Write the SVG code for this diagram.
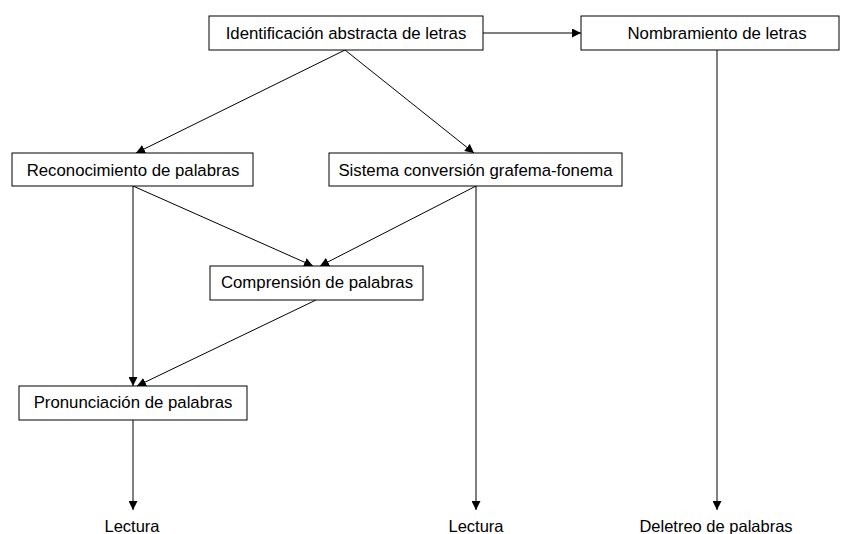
<svg xmlns="http://www.w3.org/2000/svg" width="843" height="534" viewBox="0 0 843 534">
<defs>
<style>
.box{fill:#fff;stroke:#000;stroke-width:1}
.t{font-family:"Liberation Sans",Arial,sans-serif;font-size:16.8px;fill:#000;text-anchor:middle}
.b{font-family:"Liberation Sans",Arial,sans-serif;font-size:16.5px;fill:#000;text-anchor:middle}
.c{stroke:#000;stroke-width:1;fill:none;marker-end:url(#ah)}
</style>
<marker id="ah" viewBox="0 0 10 10" refX="10" refY="5" markerWidth="9" markerHeight="9" markerUnits="userSpaceOnUse" orient="auto">
<path d="M0,0 L10,5 L0,10 Z" fill="#000"/>
</marker>
</defs>
<rect width="843" height="534" fill="#fff"/>
<g id="connectors">
<line class="c" x1="482" y1="33" x2="581" y2="33"/>
<line class="c" x1="345" y1="50" x2="136" y2="153"/>
<line class="c" x1="345" y1="50" x2="474" y2="153"/>
<line class="c" x1="717" y1="50" x2="717" y2="510"/>
<line class="c" x1="133" y1="186" x2="133" y2="386"/>
<line class="c" x1="133" y1="186" x2="313" y2="266"/>
<line class="c" x1="476" y1="186" x2="320" y2="266"/>
<line class="c" x1="476" y1="186" x2="476" y2="510"/>
<line class="c" x1="316" y1="300" x2="137" y2="386"/>
<line class="c" x1="133" y1="420" x2="133" y2="510"/>
</g>
<g id="n1"><rect class="box" x="209" y="16" width="274" height="34"/><text class="t" x="346" y="39">Identificación abstracta de letras</text></g>
<g id="n2"><rect class="box" x="581" y="16" width="258" height="34"/><text class="t" x="717" y="39">Nombramiento de letras</text></g>
<g id="n3"><rect class="box" x="12" y="153" width="241" height="33"/><text class="t" x="133" y="176">Reconocimiento de palabras</text></g>
<g id="n4"><rect class="box" x="329" y="153" width="293" height="33"/><text class="t" x="475.5" y="176">Sistema conversión grafema-fonema</text></g>
<g id="n5"><rect class="box" x="210" y="266" width="213" height="34"/><text class="t" x="317" y="288">Comprensión de palabras</text></g>
<g id="n6"><rect class="box" x="19" y="386" width="228" height="34"/><text class="t" x="133" y="408">Pronunciación de palabras</text></g>
<g id="out1"><text class="b" x="132" y="532">Lectura</text></g>
<g id="out2"><text class="b" x="476" y="532">Lectura</text></g>
<g id="out3"><text class="b" x="716" y="532">Deletreo de palabras</text></g>
</svg>
